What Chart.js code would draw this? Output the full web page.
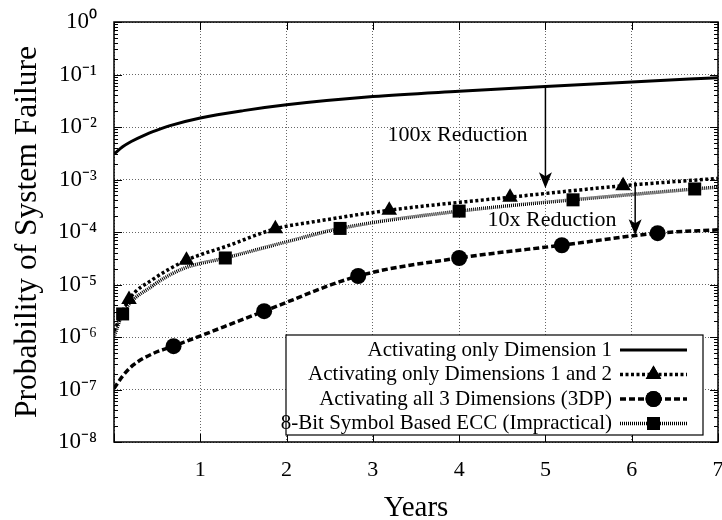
<!DOCTYPE html>
<html>
<head>
<meta charset="utf-8">
<script src="https://cdn.jsdelivr.net/npm/chart.js@4/dist/chart.umd.min.js"></script>
<style>
  html, body { margin: 0; padding: 0; background: #fff; }
  #wrap { width: 722px; height: 520px; position: relative; }
</style>
</head>
<body>
<div id="wrap"><canvas id="c" width="722" height="520"></canvas></div>
<script>
// ---------- data ----------
const seriesNames = [
  'Activating only Dimension 1',
  'Activating only Dimensions 1 and 2',
  'Activating all 3 Dimensions (3DP)',
  '8-Bit Symbol Based ECC (Impractical)'
];

const years1 = [0, 0.1, 0.2, 0.336, 0.5, 0.65, 1, 1.5, 2, 3, 4, 5, 6, 7];
const dim1   = [3.06e-3, 4.2e-3, 5.3e-3, 6.8e-3, 8.7e-3, 1.06e-2, 1.48e-2, 2.05e-2, 2.65e-2, 3.8e-2, 4.8e-2, 5.9e-2, 7.2e-2, 8.7e-2];
const marks1 = [];

const years2 = [0, 0.174, 0.45, 0.84, 1.31, 1.87, 2.35, 3.19, 4.59, 5.9, 7];
const dim12  = [1.3e-6, 5.2e-6, 1.25e-5, 2.9e-5, 5.4e-5, 1.15e-4, 1.6e-4, 2.6e-4, 4.6e-4, 7.6e-4, 1.05e-3];
const marks2 = [1, 3, 5, 7, 8, 9];

const years3 = [0, 0.1, 0.22, 0.46, 0.69, 1.74, 2.83, 4.0, 5.19, 6.3, 7];
const dim3dp = [1.05e-7, 1.8e-7, 2.9e-7, 4.9e-7, 6.7e-7, 3.1e-6, 1.45e-5, 3.2e-5, 5.6e-5, 9.5e-5, 1.1e-4];
const marks3 = [4, 5, 6, 7, 8, 9];

const years4 = [0, 0.10, 0.45, 0.8, 1.29, 2.0, 2.62, 4.0, 5.32, 6.73, 7];
const ecc8   = [1.0e-6, 2.75e-6, 9.5e-6, 2.0e-5, 3.2e-5, 6.5e-5, 1.17e-4, 2.5e-4, 4.1e-4, 6.6e-4, 7.2e-4];
const marks4 = [1, 4, 6, 7, 8, 9];

const xTickValues = [0, 1, 2, 3, 4, 5, 6, 7];
const yTickExponents = [0, -1, -2, -3, -4, -5, -6, -7, -8];

// annotations: labels and arrows (data coordinates)
const noteTexts = ['100x Reduction', '10x Reduction'];
const noteX     = [3.17, 4.33];
const noteY     = [7e-3, 1.7e-4];
const arrowX    = [5.0, 6.04];
const arrowFrom = [6.3e-2, 9.1e-4];
const arrowTo   = [6.8e-4, 8.7e-5];

// ---------- helpers ----------
const FONT = "'Liberation Serif', 'Times New Roman', serif";
const SUP = {'0':'\u2070','1':'\u00B9','2':'\u00B2','3':'\u00B3','4':'\u2074','5':'\u2075','6':'\u2076','7':'\u2077','8':'\u2078','9':'\u2079','-':'\u207B'};
function supText(n) { return String(n).split('').map(c => SUP[c] || c).join(''); }
function pts(xs, ys) { return xs.map((x, i) => ({ x: x, y: ys[i] })); }
function radiusFor(marks, r) { return ctx => marks.includes(ctx.dataIndex) ? r : 0; }

const styles = [
  { dash: [], width: 3, point: 'circle', r: 0, marks: marks1 },
  { dash: [3, 2.5], width: 3.5, point: 'triangle', r: 9, marks: marks2 },
  { dash: [6, 3], width: 3.5, point: 'circle', r: 8, marks: marks3 },
  { dash: [1, 1], width: 3.5, point: 'rect', r: 9.2, marks: marks4 }
];
const seriesX = [years1, years2, years3, years4];
const seriesY = [dim1, dim12, dim3dp, ecc8];

const datasets = seriesNames.map((name, i) => ({
  label: name,
  data: pts(seriesX[i], seriesY[i]),
  borderColor: '#000',
  backgroundColor: '#000',
  borderWidth: styles[i].width,
  borderDash: styles[i].dash,
  borderCapStyle: 'butt',
  pointStyle: styles[i].point,
  pointRadius: radiusFor(styles[i].marks, styles[i].r),
  pointHoverRadius: radiusFor(styles[i].marks, styles[i].r),
  pointBorderWidth: 0,
  pointBackgroundColor: '#000',
  cubicInterpolationMode: 'monotone',
  fill: false
}));

// ---------- plugins ----------
const framePlugin = {
  id: 'frame',
  afterDatasetsDraw(chart) {
    const { ctx, chartArea: a, scales } = chart;
    const ys = scales.y, xs = scales.x;
    ctx.save();
    ctx.strokeStyle = '#000';
    ctx.lineWidth = 1;
    for (let e = -8; e <= 0; e++) {
      for (let m = 1; m <= 9; m++) {
        const v = m * Math.pow(10, e);
        if (v > 1 || v < 1e-8) continue;
        const py = Math.round(ys.getPixelForValue(v)) + 0.5;
        const len = (m === 1) ? 8 : 4;
        ctx.beginPath();
        ctx.moveTo(a.left, py); ctx.lineTo(a.left + len, py);
        ctx.moveTo(a.right, py); ctx.lineTo(a.right - len, py);
        ctx.stroke();
      }
    }
    xTickValues.forEach(v => {
      const px = Math.round(xs.getPixelForValue(v)) + 0.5;
      ctx.beginPath();
      ctx.moveTo(px, a.bottom); ctx.lineTo(px, a.bottom - 8);
      ctx.moveTo(px, a.top); ctx.lineTo(px, a.top + 8);
      ctx.stroke();
    });
    ctx.lineWidth = 1.5;
    ctx.strokeRect(a.left, a.top, a.right - a.left, a.bottom - a.top);

    ctx.fillStyle = '#000';
    arrowX.forEach((xv, i) => {
      const px = xs.getPixelForValue(xv);
      const y0 = ys.getPixelForValue(arrowFrom[i]);
      const y1 = ys.getPixelForValue(arrowTo[i]);
      ctx.lineWidth = 1.5;
      ctx.beginPath(); ctx.moveTo(px, y0); ctx.lineTo(px, y1 - 10); ctx.stroke();
      ctx.beginPath();
      ctx.moveTo(px, y1);
      ctx.lineTo(px - 6.5, y1 - 16);
      ctx.lineTo(px, y1 - 12);
      ctx.lineTo(px + 6.5, y1 - 16);
      ctx.closePath();
      ctx.fill();
    });
    ctx.font = '22px ' + FONT;
    ctx.textAlign = 'left';
    ctx.textBaseline = 'middle';
    noteTexts.forEach((t, i) => {
      ctx.fillText(t, xs.getPixelForValue(noteX[i]), ys.getPixelForValue(noteY[i]));
    });
    ctx.restore();
  }
};

const keyPlugin = {
  id: 'key',
  afterDraw(chart) {
    const { ctx, chartArea: a } = chart;
    const bx = a.left + 172, by = a.bottom - 107;
    const bw = a.right - 15 - bx, bh = 100;
    ctx.save();
    ctx.fillStyle = '#fff';
    ctx.fillRect(bx, by, bw, bh);
    ctx.strokeStyle = '#000';
    ctx.lineWidth = 1.2;
    ctx.strokeRect(bx, by, bw, bh);
    ctx.font = '21px ' + FONT;
    ctx.textAlign = 'right';
    ctx.textBaseline = 'middle';
    const textRight = bx + 326;
    const s0 = bx + 334, s1 = bx + 401;
    chart.data.datasets.forEach((ds, i) => {
      const ry = by + 15 + i * 24.5;
      ctx.fillStyle = '#000';
      ctx.fillText(ds.label, textRight, ry);
      ctx.save();
      ctx.strokeStyle = '#000';
      ctx.lineWidth = styles[i].width;
      ctx.lineCap = 'butt';
      ctx.setLineDash(styles[i].dash);
      ctx.beginPath(); ctx.moveTo(s0, ry); ctx.lineTo(s1, ry); ctx.stroke();
      ctx.restore();
      if (styles[i].r > 0) {
        Chart.helpers.drawPoint(ctx, {
          pointStyle: styles[i].point, radius: styles[i].r, borderWidth: 0, rotation: 0
        }, (s0 + s1) / 2, ry);
        ctx.fillStyle = '#000';
        ctx.fill();
      }
    });
    ctx.restore();
  }
};

// ---------- chart ----------
new Chart(document.getElementById('c'), {
  type: 'line',
  data: { datasets: datasets },
  options: {
    responsive: false,
    animation: false,
    events: [],
    layout: { autoPadding: false, padding: { left: 0, right: 4, top: 22, bottom: 0 } },
    plugins: { legend: { display: false }, tooltip: { enabled: false } },
    scales: {
      x: {
        type: 'linear',
        min: 0, max: 7,
        afterBuildTicks(scale) { scale.ticks = xTickValues.map(v => ({ value: v })); },
        afterFit(scale) { scale.height = 78; scale.paddingLeft = 0; scale.paddingRight = 0; },
        ticks: {
          color: '#000',
          font: { family: FONT, size: 22 },
          padding: 15,
          maxRotation: 0,
          autoSkip: false,
          callback: v => (v === 0 ? '' : String(v))
        },
        grid: { color: '#666', lineWidth: 1, drawTicks: false },
        border: { display: false, dash: [1, 2] },
        title: {
          display: true, text: 'Years', color: '#000',
          font: { family: FONT, size: 29, lineHeight: 0.7 },
          padding: { top: 0, bottom: 1 }
        }
      },
      y: {
        type: 'logarithmic',
        min: 1e-8, max: 1,
        afterBuildTicks(scale) { scale.ticks = yTickExponents.map(e => ({ value: Math.pow(10, e) })); },
        afterFit(scale) { scale.width = 114; scale.paddingTop = 0; scale.paddingBottom = 0; },
        ticks: {
          color: '#000',
          font: { family: FONT, size: 23 },
          padding: 17,
          autoSkip: false,
          callback: v => '10' + supText(Math.round(Math.log10(v)))
        },
        grid: { color: '#666', lineWidth: 1, drawTicks: false },
        border: { display: false, dash: [1, 2] },
        title: {
          display: true, text: 'Probability of System Failure', color: '#000',
          font: { family: FONT, size: 31.5, lineHeight: 1 },
          padding: { top: 12, bottom: 0 }
        }
      }
    }
  },
  plugins: [framePlugin, keyPlugin]
});
</script>
</body>
</html>
